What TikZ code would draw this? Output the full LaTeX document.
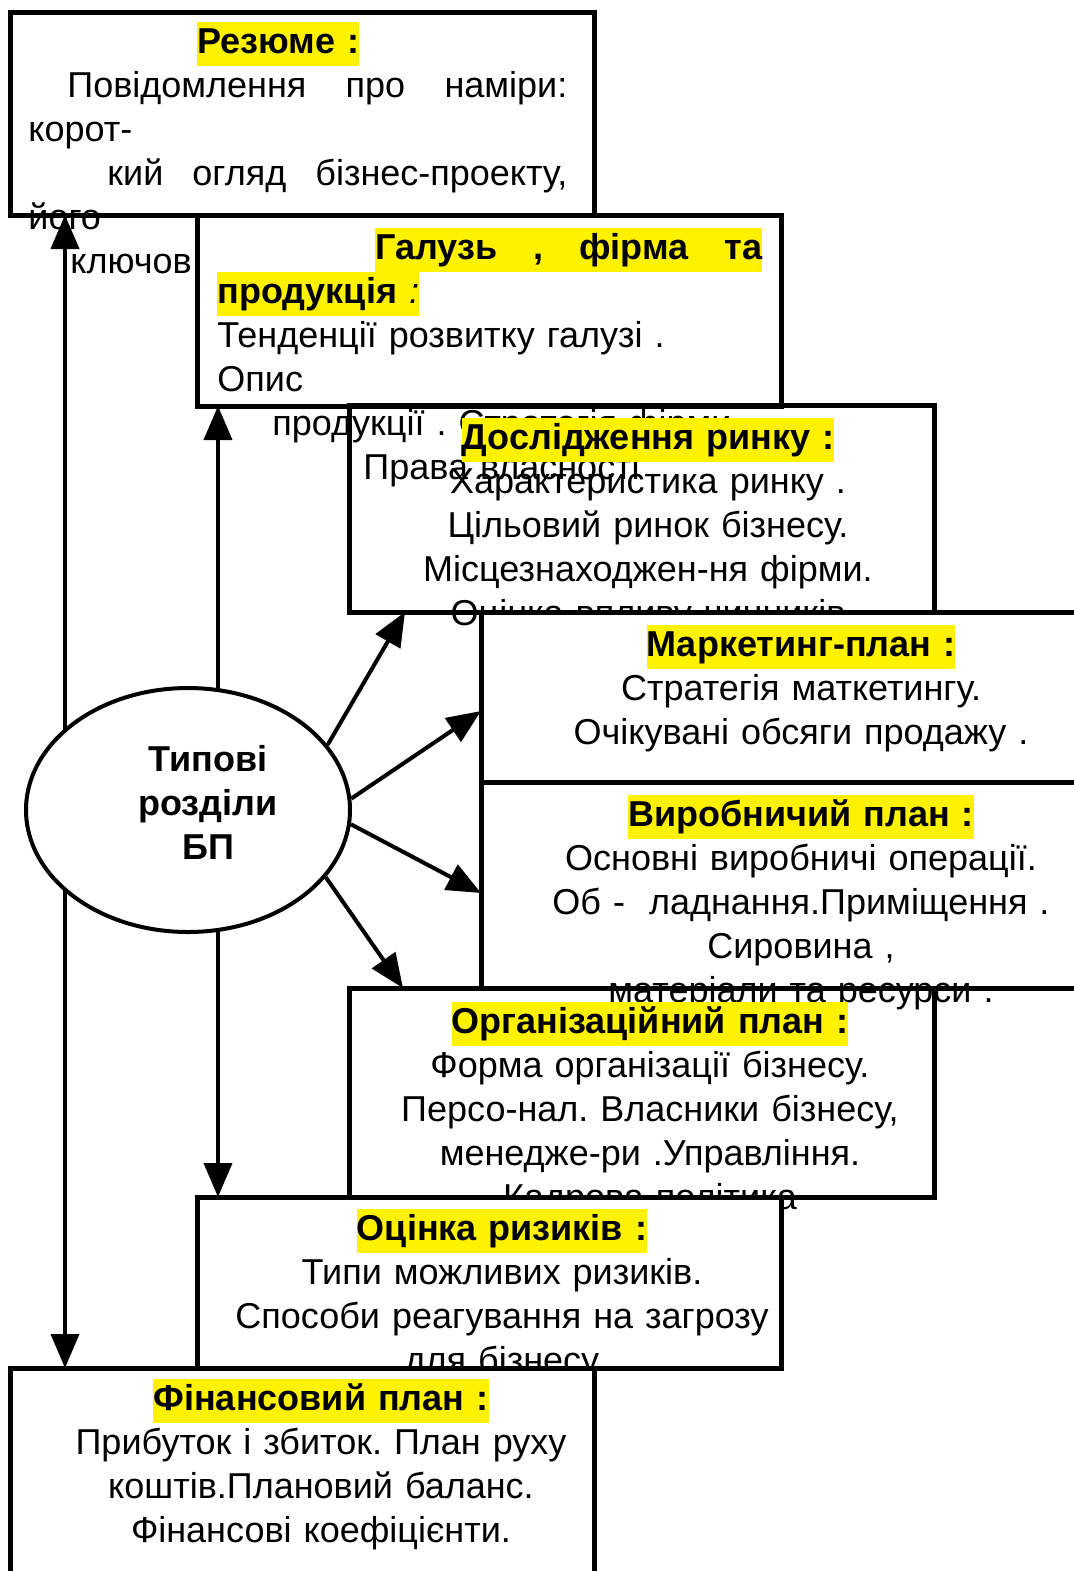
\documentclass[tikz,border=0pt]{standalone}
\usepackage{fontspec}
\setmainfont{Liberation Sans}
\usetikzlibrary{shapes.geometric,arrows.meta}
\newcommand{\yellowmark}[1]{{\setlength{\fboxsep}{0pt}\colorbox{yellow}{\strut\bfseries #1}}}
\frenchspacing

\begin{document}
\begin{tikzpicture}[x=0.5pt, y=-0.5pt,
    every node/.style={font=\fontsize{18}{22}\selectfont},
    box/.style={draw, line width=2.5pt, outer sep=0pt, inner sep=0pt, anchor=north west},
    filled box/.style={box, fill=white},
    box text/.style={align=center, text width=290pt, inner sep=0pt, anchor=base},
    link/.style={line width=2pt},
    >={Triangle[length=17pt,width=14pt]}
]
    \useasboundingbox (0,0) rectangle (1074,1571);
    \clip (0,0) rectangle (1074,1571);

    \node[filled box, minimum width=292pt, minimum height=101.5pt] (resume box) at (10,12) {};
    \node[box text, align=left, text width=269.5pt, anchor=base west] (resume text) at (28,53) {
        \hspace*{84.5pt}\yellowmark{Резюме :}\\
        \makebox[\linewidth][s]{\hspace*{19.5pt}Повідомлення\hfill про\hfill наміри:}\\
        корот-\\
        \makebox[\linewidth][s]{\hspace*{39.5pt}кий\hfill огляд\hfill бізнес-проекту,}\\
        його\\
        \hspace*{21pt}ключов
    };

    \node[filled box, minimum width=292pt, minimum height=95.5pt] (industry box) at (197,215) {};
    \node[box text, align=left, text width=272.5pt, anchor=base west] (industry text) at (217,259) {
        \makebox[\linewidth][r]{\yellowmark{\makebox[193.5pt][s]{Галузь\hfill,\hfill фірма\hfill та}}}\\
        \yellowmark{продукція {\mdseries\itshape :}}\\
        Тенденції розвитку галузі .\\
        Опис\\
        \hspace*{27.5pt}продукції . Стратегія фірми\\
        \hspace*{73pt}Права власності
    };

    \node[box, minimum width=292.5pt, minimum height=103.5pt] (market box) at (349,405) {};
    \node[box text] (market text) at (648,449) {
        \yellowmark{Дослідження ринку :}\\
        Характеристика ринку .\\
        Цільовий ринок бізнесу.\\
        Місцезнаходжен-ня фірми.\\
        Оцінка впливу чинників
    };

    \node[filled box, minimum width=320pt, minimum height=85pt] (marketing box) at (481,612) {};
    \node[box text] (marketing text) at (801,656) {
        \yellowmark{Маркетинг-план :}\\
        Стратегія маткетингу.\\
        Очікувані обсяги продажу .
    };

    \node[filled box, minimum width=320pt, minimum height=103pt] (production box) at (481,782) {};
    \node[box text] (production text) at (801,826) {
        \yellowmark{Виробничий план :}\\
        Основні виробничі операції.\\
        Об - \ ладнання.Приміщення .\\
        Сировина ,\\
        матеріали та ресурси .
    };

    \node[box, minimum width=292.5pt, minimum height=104.5pt] (organisation box) at (349,988) {};
    \node[box text] (organisation text) at (650,1033) {
        \yellowmark{Організаційний план :}\\
        Форма організації бізнесу.\\
        Персо-нал. Власники бізнесу,\\
        менедже-ри .Управління.\\
        Кадрова політика
    };

    \node[filled box, minimum width=292pt, minimum height=85.5pt] (risk box) at (197,1197) {};
    \node[box text] (risk text) at (502,1240) {
        \yellowmark{Оцінка ризиків :}\\
        Типи можливих ризиків.\\
        Способи реагування на загрозу\\
        для бізнесу
    };

    \node[filled box, minimum width=292pt, minimum height=120pt] (finance box) at (10,1368) {};
    \node[box text] (finance text) at (321,1410) {
        \yellowmark{Фінансовий план :}\\
        Прибуток і збиток. План руху\\
        коштів.Плановий баланс.\\
        Фінансові коефіцієнти.
    };

    \coordinate (left bus) at (65,0);
    \coordinate (middle bus) at (218,0);
    \draw[link, <->] (left bus |- resume box.south) -- (left bus |- finance box.north);
    \draw[link, <->] (middle bus |- industry box.south) -- (middle bus |- risk box.north);

    \node[ellipse, draw, fill=white, line width=2pt, minimum width=162pt, minimum height=122pt, inner sep=0pt] (sections) at (188,810) {};
    \node[font=\fontsize{18}{22}\selectfont\bfseries, align=center] (sections label) at (208,802) {Типові\\розділи\\БП};

    \draw[link, ->] (sections.25) -- ([xshift=28pt]market box.south west);
    \draw[link, ->] (sections.4) -- ([yshift=-7pt]marketing box.west);
    \draw[link, ->] (sections.-5) -- ([yshift=-4pt]production box.west);
    \draw[link, ->] (sections.-26) -- ([xshift=27pt]organisation box.north west);
\end{tikzpicture}
\end{document}
